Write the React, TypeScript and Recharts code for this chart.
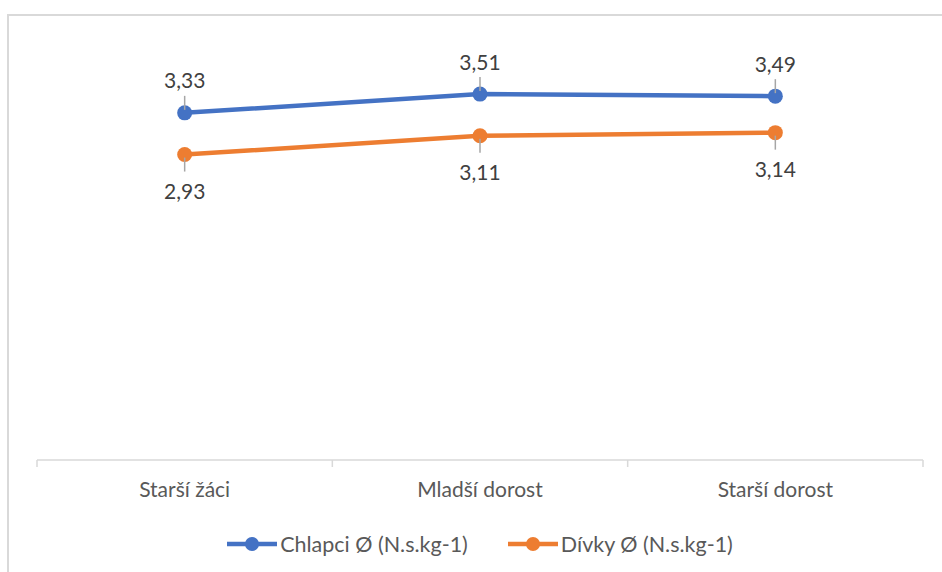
import { LineChart, Line, XAxis, YAxis, Legend, LabelList } from "recharts";

const categories = ["Starší žáci", "Mladší dorost", "Starší dorost"];
const chlapci = [3.33, 3.51, 3.49];
const divky = [2.93, 3.11, 3.14];
const seriesNames = ["Chlapci Ø (N.s.kg-1)", "Dívky Ø (N.s.kg-1)"];

const W = 942;
const H = 572;
const M = { top: 43, right: 19, left: 37, bottom: 0 };
const BAND = (W - M.left - M.right) / categories.length;
const FONT = "Lato, 'Open Sans', sans-serif";
const BLUE = "#4472C4";
const ORANGE = "#ED7D31";

const data = categories.map((name, i) => ({
  name,
  chlapci: chlapci[i],
  divky: divky[i],
}));

const fmt = (v: number) => v.toFixed(2).replace(".", ",");

// category label plus the tick marks on the band edges
function CategoryTick(props: any) {
  const { x, y, payload, index } = props;
  const last = index === categories.length - 1;
  return (
    <g>
      <line x1={x - BAND / 2} x2={x - BAND / 2} y1={y} y2={y + 7} stroke="#d9d9d9" strokeWidth={1.5} />
      {last && (
        <line x1={x + BAND / 2} x2={x + BAND / 2} y1={y} y2={y + 7} stroke="#d9d9d9" strokeWidth={1.5} />
      )}
      <text x={x} y={y + 37} textAnchor="middle" fill="#595959" fontSize={21} fontFamily={FONT}>
        {payload.value}
      </text>
    </g>
  );
}

// value label with a short leader line, above or below the point
function makeLabel(above: boolean) {
  return (props: any) => {
    const { x, y, value } = props;
    const dir = above ? -1 : 1;
    const off = above ? 32 : 37;
    return (
      <g>
        <line x1={x} x2={x} y1={y + dir * 3} y2={y + dir * 17} stroke="#a6a6a6" strokeWidth={1.5} />
        <text
          x={x}
          y={y + dir * off}
          dy="0.36em"
          textAnchor="middle"
          fill="#404040"
          fontSize={21}
          fontFamily={FONT}
        >
          {fmt(value)}
        </text>
      </g>
    );
  };
}

function LegendContent() {
  const items = [
    { name: seriesNames[0], color: BLUE },
    { name: seriesNames[1], color: ORANGE },
  ];
  return (
    <div style={{ height: 52, display: "flex", justifyContent: "center", alignItems: "flex-start" }}>
      {items.map((it, i) => (
        <div
          key={it.name}
          style={{ display: "flex", alignItems: "center", marginLeft: i ? 40 : 0, height: 48 }}
        >
          <svg width={50} height={16}>
            <line x1={0} x2={50} y1={8} y2={8} stroke={it.color} strokeWidth={4.5} />
            <circle cx={25} cy={8} r={7} fill={it.color} />
          </svg>
          <span style={{ fontFamily: FONT, fontSize: 21.5, color: "#595959", marginLeft: 3 }}>{it.name}</span>
        </div>
      ))}
    </div>
  );
}

export default function App() {
  return (
    <div style={{ position: "absolute", left: 0, top: 0, width: W, height: H, overflow: "hidden", background: "#fff" }}>
      <div
        style={{
          position: "absolute",
          left: 7,
          top: 14,
          width: W + 40,
          height: H + 40,
          border: "2px solid #d9d9d9",
          boxSizing: "border-box",
        }}
      />
      <LineChart width={W} height={H} data={data} margin={M} style={{ position: "absolute", left: 0, top: 0 }}>
        <XAxis
          dataKey="name"
          height={60}
          padding={{ left: BAND / 2, right: BAND / 2 }}
          axisLine={{ stroke: "#d9d9d9", strokeWidth: 1.5 }}
          tickLine={false}
          tickSize={0}
          tickMargin={0}
          tick={<CategoryTick />}
          interval={0}
        />
        <YAxis hide domain={[0, 4]} />
        <Legend verticalAlign="bottom" content={<LegendContent />} />
        <Line
          dataKey="chlapci"
          name={seriesNames[0]}
          stroke={BLUE}
          strokeWidth={4.5}
          dot={{ r: 7.5, fill: BLUE, stroke: BLUE, strokeWidth: 0 }}
          isAnimationActive={false}
        >
          <LabelList dataKey="chlapci" content={makeLabel(true)} />
        </Line>
        <Line
          dataKey="divky"
          name={seriesNames[1]}
          stroke={ORANGE}
          strokeWidth={4.5}
          dot={{ r: 7.5, fill: ORANGE, stroke: ORANGE, strokeWidth: 0 }}
          isAnimationActive={false}
        >
          <LabelList dataKey="divky" content={makeLabel(false)} />
        </Line>
      </LineChart>
    </div>
  );
}
